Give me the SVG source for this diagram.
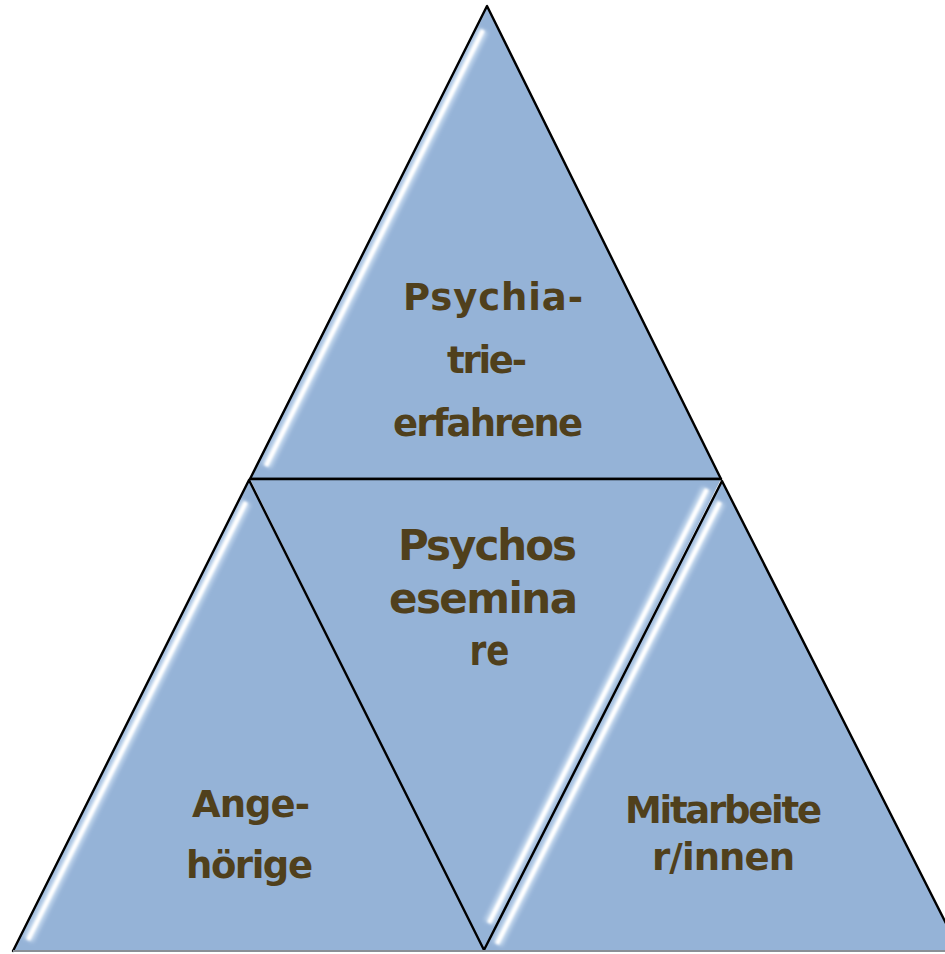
<svg xmlns="http://www.w3.org/2000/svg" width="945" height="954" viewBox="0 0 945 954">
<defs>
<style>
.tri{fill:#95B3D7;stroke:none}
.edge{fill:none;stroke:#000;stroke-width:2.4;stroke-linejoin:round;stroke-linecap:round}
.hl{stroke:#fff;stroke-width:4.5;stroke-linecap:butt;filter:url(#soft)}
.hl2{stroke:#d6e6f7;stroke-width:11;stroke-linecap:butt;opacity:0.75;filter:url(#soft2)}
.lbl{font-family:"DejaVu Sans","Liberation Sans",sans-serif;font-weight:bold;fill:#50401C;text-anchor:middle}
.s35{font-size:37px}
.s40{font-size:42px}
</style>
<filter id="soft" x="-10%" y="-10%" width="120%" height="120%"><feGaussianBlur stdDeviation="0.9"/></filter>
<filter id="soft2" x="-10%" y="-10%" width="120%" height="120%"><feGaussianBlur stdDeviation="2"/></filter>
</defs>
<rect width="945" height="954" fill="#fff"/>
<g id="top">
<polygon class="tri" points="487,6 250,479 721,479"/>
<line class="hl2" x1="483" y1="30" x2="266" y2="466"/>
<line class="hl" x1="483" y1="30" x2="266" y2="466"/>
<polygon class="edge" points="487,6 250,479 721,479"/>
<text class="lbl s35" x="493" y="310" textLength="180" lengthAdjust="spacing">Psychia-</text>
<text class="lbl s35" x="487" y="373" textLength="80" lengthAdjust="spacing">trie-</text>
<text class="lbl s35" x="488" y="436" textLength="190" lengthAdjust="spacing">erfahrene</text>
</g>
<g id="left">
<polygon class="tri" points="249,480 13,951 484,951"/>
<line class="hl2" x1="246" y1="502" x2="28" y2="940"/>
<line class="hl" x1="246" y1="502" x2="28" y2="940"/>
<text class="lbl s35" x="251" y="817" textLength="118" lengthAdjust="spacing">Ange-</text>
<text class="lbl s35" x="249.5" y="878" textLength="127" lengthAdjust="spacing">hörige</text>
</g>
<g id="middle">
<polygon class="tri" points="250,479 721,479 484,950"/>
<line class="hl2" x1="707" y1="489" x2="489" y2="923"/>
<line class="hl" x1="707" y1="489" x2="489" y2="923"/>
<text class="lbl s40" x="487.5" y="560" textLength="179" lengthAdjust="spacing">Psychos</text>
<text class="lbl s40" x="483.5" y="613" textLength="189" lengthAdjust="spacing">esemina</text>
<text class="lbl s40" x="489.5" y="665" textLength="40" lengthAdjust="spacingAndGlyphs">re</text>
</g>
<g id="right">
<polygon class="tri" points="722,481 484,951 960,951"/>
<line class="hl2" x1="720" y1="502" x2="497" y2="944"/>
<line class="hl" x1="720" y1="502" x2="497" y2="944"/>
<text class="lbl s35" x="723.5" y="823" textLength="197" lengthAdjust="spacing">Mitarbeite</text>
<text class="lbl s35" x="723.5" y="870" textLength="143" lengthAdjust="spacing">r/innen</text>
</g>
<g id="connectors">
<polyline class="edge" points="250,479 721,479"/>
<polyline class="edge" points="13,951 249,480 484,950 722,481 960,951"/>
<line x1="13" y1="951" x2="945" y2="951" stroke="#8a8f96" stroke-width="2"/>
</g>
</svg>
